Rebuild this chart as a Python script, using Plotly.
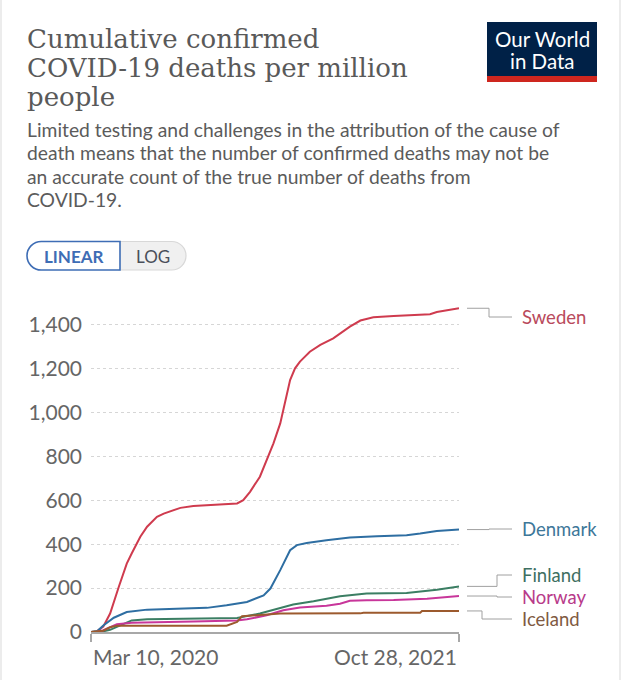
import plotly.graph_objects as go

# ---------------- data ----------------
sweden_dates = ["2020-03-10", "2020-03-20", "2020-03-30", "2020-04-10", "2020-04-24", "2020-05-07",
                "2020-05-15", "2020-05-29", "2020-06-09", "2020-06-25", "2020-07-06", "2020-08-02",
                "2020-08-23", "2020-10-16", "2020-11-02", "2020-11-12", "2020-11-23", "2020-12-09",
                "2020-12-20", "2020-12-31", "2021-01-11", "2021-01-16", "2021-01-22", "2021-01-27",
                "2021-02-04", "2021-02-12", "2021-02-28", "2021-03-17", "2021-04-07", "2021-05-04",
                "2021-05-21", "2021-06-11", "2021-07-14", "2021-09-11", "2021-09-22", "2021-10-28"]
sweden_vals = [0, 4, 25, 84, 205, 312, 358, 434, 480, 525, 540, 566, 574, 583, 586, 601, 639, 708,
               784, 860, 951, 1012, 1080, 1149, 1202, 1233, 1278, 1309, 1339, 1392, 1420, 1435,
               1441, 1449, 1459, 1476]

denmark_dates = ["2020-03-10", "2020-03-20", "2020-03-30", "2020-04-16", "2020-05-07", "2020-06-09",
                 "2020-07-27", "2020-09-14", "2020-10-16", "2020-11-18", "2020-12-15", "2020-12-26",
                 "2021-01-11", "2021-01-27", "2021-02-07", "2021-02-23", "2021-03-27", "2021-05-04",
                 "2021-06-17", "2021-08-04", "2021-08-26", "2021-09-22", "2021-10-28"]
denmark_vals = [0, 3, 30, 65, 91, 102, 106, 110, 122, 137, 167, 198, 282, 373, 396, 406, 418, 431,
                437, 441, 449, 461, 467]

finland_dates = ["2020-03-10", "2020-03-30", "2020-04-10", "2020-04-21", "2020-05-15", "2020-06-09",
                 "2020-08-23", "2020-11-02", "2020-12-09", "2021-01-05", "2021-02-01", "2021-03-06",
                 "2021-04-18", "2021-05-31", "2021-08-04", "2021-09-22", "2021-10-28"]
finland_vals = [0, 3, 10, 23, 53, 58, 60, 64, 84, 106, 125, 140, 163, 175, 178, 193, 208]

norway_dates = ["2020-03-10", "2020-03-20", "2020-03-30", "2020-04-21", "2020-05-15", "2020-06-30",
                "2020-08-23", "2020-11-02", "2020-11-18", "2020-12-20", "2021-01-16", "2021-02-12",
                "2021-03-27", "2021-04-18", "2021-05-04", "2021-05-31", "2021-07-14", "2021-09-06",
                "2021-10-28"]
norway_vals = [0, 1, 8, 35, 42, 46, 48, 52, 58, 76, 99, 112, 120, 129, 142, 145, 146, 152, 164]

iceland_dates = ["2020-03-10", "2020-03-20", "2020-03-30", "2020-04-10", "2020-04-21", "2020-10-16",
                 "2020-10-27", "2020-11-02", "2020-11-10", "2020-12-20", "2021-01-11", "2021-05-21",
                 "2021-05-26", "2021-08-26", "2021-08-29", "2021-10-28"]
iceland_vals = [0, 3, 6, 22, 29, 29, 38, 46, 72, 81, 84, 85, 88, 88, 96, 96]

countries = ["Sweden", "Denmark", "Finland", "Norway", "Iceland"]
series = {
    "Sweden": (sweden_dates, sweden_vals),
    "Denmark": (denmark_dates, denmark_vals),
    "Finland": (finland_dates, finland_vals),
    "Norway": (norway_dates, norway_vals),
    "Iceland": (iceland_dates, iceland_vals),
}
y_ticks = [0, 200, 400, 600, 800, 1000, 1200, 1400]
x_start, x_end = "2020-03-10", "2021-10-28"
x_tick_labels = ["Mar 10, 2020", "Oct 28, 2021"]

title_lines = ["Cumulative confirmed", "COVID-19 deaths per million", "people"]
subtitle_lines = ["Limited testing and challenges in the attribution of the cause of",
                  "death means that the number of confirmed deaths may not be",
                  "an accurate count of the true number of deaths from",
                  "COVID-19."]

# ---------------- styling ----------------
line_colors = {"Sweden": "#cf3b4e", "Denmark": "#2e6ea2", "Finland": "#3b7e63",
               "Norway": "#c8369a", "Iceland": "#9c5a2e"}
label_colors = {"Sweden": "#b94a5c", "Denmark": "#3d7799", "Finland": "#3e6f62",
                "Norway": "#b83a8a", "Iceland": "#7f5a42"}

W, H = 622, 680
ML, MR, MT, MB = 91, 163, 303, 48
PW, PH = W - ML - MR, H - MT - MB
Y_MAX = 1500


def px(x):
    return (x - ML) / PW


def py(y):
    return (H - MB - y) / PH


def ydata(ypix):
    return (H - MB - ypix) * Y_MAX / PH


fig = go.Figure()
for c in countries:
    d, v = series[c]
    fig.add_trace(go.Scatter(x=d, y=v, mode="lines", name=c,
                             line=dict(color=line_colors[c], width=2), showlegend=False,
                             hoverinfo="skip"))

fig.update_layout(
    width=W, height=H, margin=dict(l=ML, r=MR, t=MT, b=MB, autoexpand=False),
    paper_bgcolor="white", plot_bgcolor="white",
    font=dict(family="Lato", color="#666"),
)
fig.update_xaxes(type="date", range=[x_start, x_end], tickvals=[x_start, x_end],
                 showticklabels=False, ticks="outside", ticklen=8, tickwidth=1.5,
                 tickcolor="#a8a8a8", showline=True, linecolor="#a8a8a8", linewidth=2,
                 showgrid=False, zeroline=False)
fig.update_yaxes(range=[0, Y_MAX], tickvals=y_ticks, tickformat=",",
                 tickfont=dict(family="Lato", size=21, color="#666"),
                 showgrid=True, gridcolor="#d6d6d6", griddash="dot", gridwidth=1,
                 zeroline=False, showline=False, ticks="", ticklabelstandoff=8)

ann = []
# x tick labels
ann.append(dict(x=x_start, y=py(656), xref="x", yref="paper", text=x_tick_labels[0],
                xanchor="left", yanchor="middle", showarrow=False,
                font=dict(family="Lato", size=21, color="#666")))
ann.append(dict(x=x_end, y=py(656), xref="x", yref="paper", text=x_tick_labels[1],
                xanchor="right", yanchor="middle", showarrow=False,
                font=dict(family="Lato", size=21, color="#666")))

# title
for txt, yy in zip(title_lines, [39, 68, 97]):
    ann.append(dict(x=px(25), y=py(yy), xref="paper", yref="paper", text=txt, xanchor="left",
                    yanchor="middle", showarrow=False,
                    font=dict(family="DejaVu Serif", size=26, color="#595959")))
# subtitle
for txt, yy in zip(subtitle_lines, [129, 152.5, 176, 199.5]):
    ann.append(dict(x=px(25), y=py(yy), xref="paper", yref="paper", text=txt, xanchor="left",
                    yanchor="middle", showarrow=False,
                    font=dict(family="Lato", size=19.3, color="#5b5b5b")))

# logo
shapes = []
shapes.append(dict(type="rect", xref="paper", yref="paper", x0=px(487), x1=px(597),
                   y0=py(22), y1=py(82), fillcolor="#002147", line=dict(width=0), layer="above"))
shapes.append(dict(type="rect", xref="paper", yref="paper", x0=px(487), x1=px(597),
                   y0=py(76), y1=py(82), fillcolor="#ce261e", line=dict(width=0), layer="above"))
for txt, yy in [("Our World", 39), ("in Data", 61)]:
    ann.append(dict(x=px(542), y=py(yy), xref="paper", yref="paper", text=txt, xanchor="center",
                    yanchor="middle", showarrow=False,
                    font=dict(family="Lato", size=20.5, color="white")))


# buttons
def pill_path(x0, y0, x1, y1, left_round, right_round):
    r = (y1 - y0) / 2
    k = 0.5523 * r
    if left_round:
        s = f"M{px(x0 + r)},{py(y0)} "
    else:
        s = f"M{px(x0)},{py(y0)} "
    if right_round:
        s += f"L{px(x1 - r)},{py(y0)} "
        s += (f"C{px(x1 - r + k)},{py(y0)} {px(x1)},{py(y0 + r - k)} {px(x1)},{py(y0 + r)} ")
        s += (f"C{px(x1)},{py(y0 + r + k)} {px(x1 - r + k)},{py(y1)} {px(x1 - r)},{py(y1)} ")
    else:
        s += f"L{px(x1)},{py(y0)} L{px(x1)},{py(y1)} "
    if left_round:
        s += f"L{px(x0 + r)},{py(y1)} "
        s += (f"C{px(x0 + r - k)},{py(y1)} {px(x0)},{py(y1 - r + k)} {px(x0)},{py(y0 + r)} ")
        s += (f"C{px(x0)},{py(y0 + r - k)} {px(x0 + r - k)},{py(y0)} {px(x0 + r)},{py(y0)} Z")
    else:
        s += f"L{px(x0)},{py(y1)} Z"
    return s


shapes.append(dict(type="path", xref="paper", yref="paper",
                   path=pill_path(119, 241.5, 186, 270, False, True),
                   fillcolor="#f0f0f0", line=dict(color="#d8d8d8", width=1.2), layer="above"))
shapes.append(dict(type="path", xref="paper", yref="paper",
                   path=pill_path(27, 241.5, 120, 270, True, False),
                   fillcolor="white", line=dict(color="#3e6db5", width=1.6), layer="above"))
ann.append(dict(x=px(74), y=py(256.5), xref="paper", yref="paper", text="<b>LINEAR</b>",
                xanchor="center", yanchor="middle", showarrow=False,
                font=dict(family="Lato", size=17, color="#3e6db5")))
ann.append(dict(x=px(153), y=py(256.5), xref="paper", yref="paper", text="LOG",
                xanchor="center", yanchor="middle", showarrow=False,
                font=dict(family="Lato", size=17, color="#4a4f5a")))

# end labels with connectors
label_ypix = {"Sweden": 317, "Denmark": 529, "Finland": 575, "Norway": 597, "Iceland": 619}
elbow_x = {"Sweden": 489, "Denmark": 489, "Finland": 497, "Norway": 497, "Iceland": 482}
for c in countries:
    end_val = series[c][1][-1]
    lab_val = ydata(label_ypix[c])
    ex = elbow_x[c]
    seg = [(467, end_val, ex, end_val), (ex, end_val, ex, lab_val), (ex, lab_val, 512, lab_val)]
    for (a, b, cc, d) in seg:
        shapes.append(dict(type="line", xref="paper", yref="y", x0=px(a), y0=b, x1=px(cc), y1=d,
                           line=dict(color="#a0a0a0", width=1)))
    ann.append(dict(x=px(520), y=lab_val, xref="paper", yref="y", text=c, xanchor="left",
                    yanchor="middle", showarrow=False,
                    font=dict(family="Lato", size=18.5, color=label_colors[c])))

# card border
shapes.append(dict(type="line", xref="paper", yref="paper", x0=px(1), x1=px(1), y0=py(0), y1=py(680),
                   line=dict(color="#e6e6e6", width=1.5)))
shapes.append(dict(type="line", xref="paper", yref="paper", x0=px(620), x1=px(620), y0=py(0), y1=py(680),
                   line=dict(color="#e6e6e6", width=1.5)))

fig.update_layout(annotations=ann, shapes=shapes)
fig.write_html("out.html", config={"displayModeBar": False},
               post_script="document.body.style.margin='0';document.body.style.overflow='hidden';")
